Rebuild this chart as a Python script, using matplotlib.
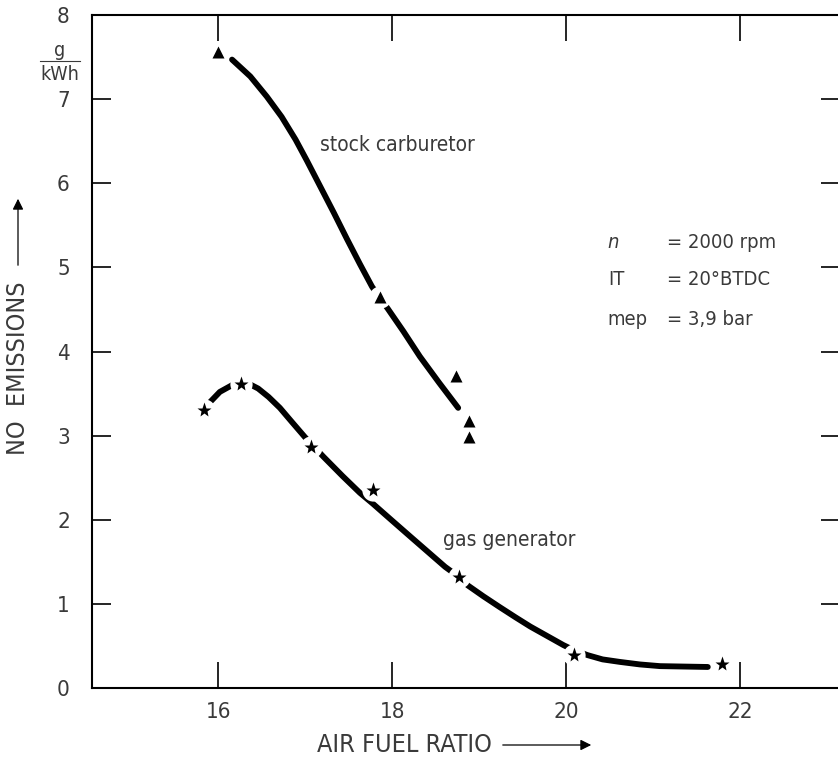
import matplotlib.pyplot as plt
from matplotlib.lines import Line2D

# stock carburetor: measured points and faired curve
stock_x = [16.0, 17.86, 18.74, 18.89, 18.89]
stock_y = [7.56, 4.65, 3.71, 3.17, 2.98]
stock_curve_x = [16.16, 16.37, 16.56, 16.73, 16.89, 17.02, 17.17, 17.33, 17.48, 17.63, 17.77,
                 17.86, 17.95, 18.13, 18.32, 18.54, 18.76]
stock_curve_y = [7.47, 7.27, 7.03, 6.79, 6.52, 6.27, 5.97, 5.65, 5.34, 5.04, 4.77,
                 4.64, 4.51, 4.24, 3.94, 3.63, 3.33]

# gas generator: measured points and faired curve
gas_x = [15.84, 16.26, 17.07, 17.78, 18.77, 20.09, 21.79]
gas_y = [3.31, 3.61, 2.87, 2.35, 1.32, 0.39, 0.29]
gas_curve_x = [15.89, 16.02, 16.16, 16.31, 16.46, 16.58, 16.71, 16.85, 17.00, 17.21, 17.43,
               17.63, 17.78, 18.00, 18.21, 18.41, 18.61, 18.77, 18.87, 19.05, 19.24, 19.42,
               19.59, 19.78, 19.97, 20.09, 20.25, 20.42, 20.62, 20.85, 21.08, 21.35, 21.63]
gas_curve_y = [3.38, 3.52, 3.60, 3.64, 3.56, 3.46, 3.33, 3.16, 2.98, 2.75, 2.52,
               2.32, 2.19, 1.99, 1.80, 1.62, 1.44, 1.32, 1.22, 1.09, 0.96, 0.84,
               0.73, 0.62, 0.51, 0.45, 0.39, 0.34, 0.31, 0.28, 0.26, 0.255, 0.25]

x_ticks = [16, 18, 20, 22]
y_ticks = [0, 1, 2, 3, 4, 5, 6, 7, 8]

TXT = "#3a3a3a"
plt.rcParams["font.family"] = ["DejaVu Sans"]
plt.rcParams["font.stretch"] = "condensed"

W, H = 838, 760
fig = plt.figure(figsize=(W / 100, H / 100), dpi=100)
ax = fig.add_axes([92 / W, 72 / H, 748 / W, 673 / H])

ax.set_xlim(14.55, 23.15)
ax.set_ylim(0, 8)

# curves
ax.plot(stock_curve_x, stock_curve_y, color="black", lw=4.2, solid_capstyle="round",
        solid_joinstyle="round", zorder=2)
ax.plot(gas_curve_x, gas_curve_y, color="black", lw=4.2, solid_capstyle="round",
        solid_joinstyle="round", zorder=2)

# white halos leave gaps in the curves around the markers
ax.plot(stock_x, stock_y, "o", ms=16, color="white", mec="none", zorder=3)
ax.plot(gas_x, gas_y, "o", ms=16, color="white", mec="none", zorder=3)

ax.plot(stock_x, stock_y, "^", ms=9, color="black", mec="none", zorder=4)
ax.plot(gas_x, gas_y, "*", ms=11, color="black", mec="none", zorder=4)

for s in ax.spines.values():
    s.set_linewidth(1.5)

ax.set_xticks(x_ticks)
ax.set_yticks(y_ticks)
ax.tick_params(axis="x", direction="in", length=19, width=1.2, top=True, pad=10,
               labelsize=16, labelcolor=TXT)
ax.tick_params(axis="y", direction="in", length=14, width=1.2, right=True, pad=16,
               labelsize=16, labelcolor=TXT)

# curve labels
ax.text(17.17, 6.46, "stock carburetor", fontsize=15, color=TXT, va="center")
ax.text(18.59, 1.76, "gas generator", fontsize=15, color=TXT, va="center")

# operating conditions
ax.text(20.48, 5.30, "n", fontsize=14.5, color=TXT, style="italic", va="center")
ax.text(21.16, 5.30, "= 2000 rpm", fontsize=14.5, color=TXT, va="center")
ax.text(20.48, 4.85, "IT", fontsize=14.5, color=TXT, va="center")
ax.text(21.16, 4.85, "= 20°BTDC", fontsize=14.5, color=TXT, va="center")
ax.text(20.48, 4.38, "mep", fontsize=14.5, color=TXT, va="center")
ax.text(21.16, 4.38, "= 3,9 bar", fontsize=14.5, color=TXT, va="center")

# unit g/kWh
fig.text(60 / W, 1 - 50 / H, "g", fontsize=14, color=TXT, ha="center", va="center")
fig.add_artist(Line2D([40 / W, 80 / W], [1 - 61 / H, 1 - 61 / H], color=TXT, lw=0.8))
fig.text(60 / W, 1 - 74 / H, "kWh", fontsize=14, color=TXT, ha="center", va="center")

# axis labels with arrows
fig.text(404 / W, 1 - 745 / H, "AIR FUEL RATIO", fontsize=18, color=TXT,
         ha="center", va="center")
ax.annotate("", xy=(594 / W, 1 - 745 / H), xytext=(500 / W, 1 - 745 / H),
            xycoords="figure fraction",
            arrowprops=dict(arrowstyle="-|>", color="black", lw=0.9, mutation_scale=16))
fig.text(18 / W, 1 - 368 / H, "NO  EMISSIONS", fontsize=18, color=TXT, rotation=90,
         ha="center", va="center")
ax.annotate("", xy=(18 / W, 1 - 196 / H), xytext=(18 / W, 1 - 268 / H),
            xycoords="figure fraction",
            arrowprops=dict(arrowstyle="-|>", color="black", lw=0.9, mutation_scale=16))

fig.savefig("out.png", dpi=100, facecolor="white")
